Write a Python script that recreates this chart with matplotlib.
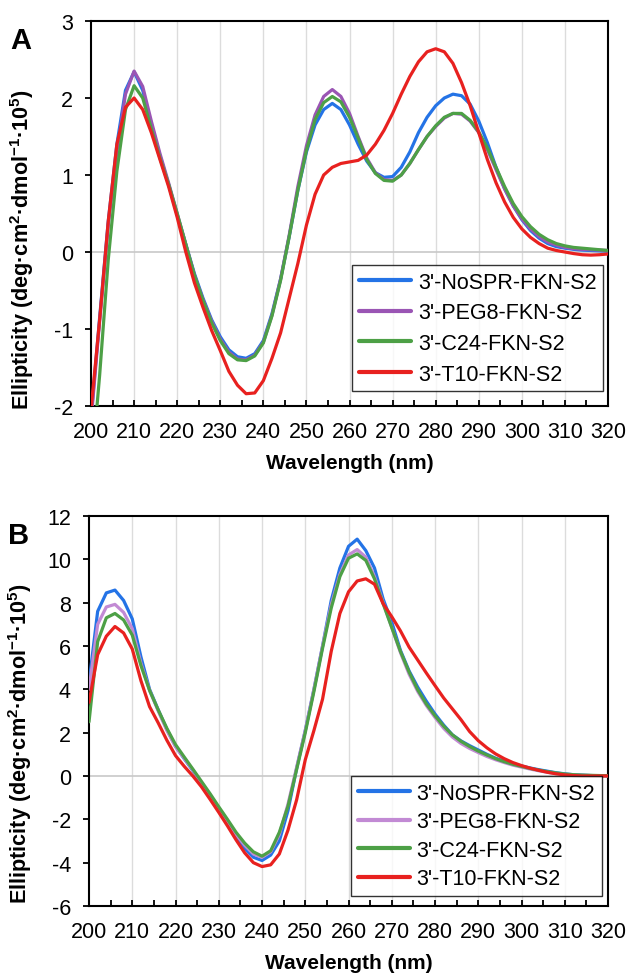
import numpy as np
import matplotlib
matplotlib.use('Agg')
import matplotlib.pyplot as plt
from matplotlib.ticker import MultipleLocator

plt.rcParams['font.family'] = ['Liberation Sans', 'DejaVu Sans']
plt.rcParams['mathtext.fontset'] = 'custom'
plt.rcParams['mathtext.bf'] = 'Liberation Sans:bold'
plt.rcParams['mathtext.rm'] = 'Liberation Sans'
plt.rcParams['mathtext.default'] = 'bf'
plt.rcParams['axes.unicode_minus'] = False

# wavelength grid (nm), 2 nm steps
wl = np.arange(200, 321, 2)

labels = ["3'-NoSPR-FKN-S2", "3'-PEG8-FKN-S2", "3'-C24-FKN-S2", "3'-T10-FKN-S2"]

# panel A
a_nospr = [-2.15, -0.85, 0.4, 1.4, 2.1, 2.34, 2.1, 1.66, 1.25, 0.88, 0.48, 0.1, -0.28, -0.6, -0.88,
           -1.1, -1.27, -1.36, -1.38, -1.32, -1.15, -0.8, -0.35, 0.2, 0.8, 1.3, 1.65, 1.85, 1.93, 1.85,
           1.65, 1.4, 1.18, 1.03, 0.97, 0.98, 1.1, 1.3, 1.55, 1.75, 1.9, 2.0, 2.05, 2.03, 1.92, 1.7,
           1.42, 1.1, 0.82, 0.6, 0.42, 0.28, 0.18, 0.11, 0.07, 0.05, 0.035, 0.025, 0.02, 0.015, 0.01]
a_peg8 = [-2.2, -0.9, 0.35, 1.3, 2.05, 2.35, 2.15, 1.7, 1.28, 0.9, 0.5, 0.1, -0.3, -0.62, -0.9,
          -1.13, -1.3, -1.39, -1.4, -1.34, -1.17, -0.82, -0.35, 0.22, 0.85, 1.38, 1.78, 2.02, 2.11, 2.02,
          1.8, 1.5, 1.22, 1.03, 0.94, 0.93, 1.0, 1.15, 1.33, 1.5, 1.63, 1.74, 1.8, 1.79, 1.7, 1.55,
          1.33, 1.07, 0.82, 0.6, 0.43, 0.3, 0.2, 0.13, 0.09, 0.06, 0.045, 0.035, 0.03, 0.025, 0.02]
a_c24 = [-2.9, -1.6, -0.1, 1.05, 1.85, 2.16, 2.0, 1.6, 1.22, 0.88, 0.5, 0.1, -0.3, -0.63, -0.92,
         -1.15, -1.32, -1.4, -1.41, -1.35, -1.18, -0.83, -0.37, 0.2, 0.8, 1.32, 1.72, 1.94, 2.02, 1.95,
         1.75, 1.48, 1.2, 1.02, 0.93, 0.92, 1.0, 1.15, 1.33, 1.5, 1.64, 1.75, 1.8, 1.8, 1.71, 1.56,
         1.35, 1.1, 0.85, 0.63, 0.46, 0.33, 0.23, 0.16, 0.11, 0.08, 0.06, 0.05, 0.04, 0.03, 0.02]
a_t10 = [-2.05, -0.88, 0.4, 1.4, 1.88, 2.0, 1.85, 1.55, 1.2, 0.85, 0.45, 0.0, -0.4, -0.72, -1.02,
         -1.28, -1.55, -1.73, -1.84, -1.83, -1.67, -1.38, -1.05, -0.6, -0.15, 0.35, 0.75, 1.0, 1.1, 1.15,
         1.17, 1.19, 1.26, 1.4, 1.58, 1.8, 2.05, 2.28, 2.47, 2.6, 2.64, 2.6, 2.45, 2.2, 1.9, 1.55,
         1.2, 0.9, 0.65, 0.45, 0.3, 0.19, 0.11, 0.05, 0.02, 0.0, -0.02, -0.035, -0.04, -0.035, -0.025]

# panel B
b_nospr = [4.3, 7.6, 8.45, 8.58, 8.1, 7.25, 5.5, 4.0, 3.05, 2.15, 1.37, 0.8, 0.25, -0.35, -0.92,
           -1.52, -2.15, -2.8, -3.35, -3.75, -3.9, -3.65, -3.0, -1.6, 0.35, 2.1, 4.0, 6.0, 8.1, 9.6,
           10.6, 10.93, 10.4, 9.6, 8.17, 7.1, 5.8, 4.85, 4.1, 3.45, 2.86, 2.35, 1.9, 1.62, 1.4, 1.2,
           1.0, 0.82, 0.68, 0.56, 0.46, 0.37, 0.29, 0.22, 0.15, 0.1, 0.06, 0.04, 0.02, 0.01, 0.01]
b_peg8 = [4.0, 7.0, 7.8, 7.92, 7.55, 6.8, 5.2, 3.95, 3.0, 2.1, 1.35, 0.82, 0.28, -0.3, -0.88,
          -1.48, -2.1, -2.7, -3.2, -3.6, -3.75, -3.5, -2.7, -1.3, 0.4, 2.1, 4.0, 6.0, 7.9, 9.3,
          10.2, 10.45, 10.1, 9.2, 8.0, 6.85, 5.7, 4.7, 3.9, 3.25, 2.7, 2.2, 1.8, 1.5, 1.27, 1.08,
          0.9, 0.75, 0.62, 0.5, 0.41, 0.32, 0.24, 0.17, 0.11, 0.07, 0.05, 0.03, 0.02, 0.01, 0.01]
b_c24 = [2.5, 6.2, 7.3, 7.5, 7.2, 6.5, 5.1, 3.95, 3.05, 2.2, 1.45, 0.88, 0.32, -0.25, -0.82,
         -1.42, -2.0, -2.6, -3.1, -3.5, -3.7, -3.45, -2.6, -1.4, 0.3, 2.0, 3.9, 5.9, 7.75, 9.2,
         10.05, 10.25, 9.95, 9.1, 7.95, 6.85, 5.75, 4.8, 3.98, 3.32, 2.78, 2.3, 1.9, 1.6, 1.36, 1.15,
         0.97, 0.8, 0.66, 0.54, 0.44, 0.35, 0.27, 0.2, 0.14, 0.09, 0.06, 0.04, 0.03, 0.02, 0.01]
b_t10 = [3.4, 5.6, 6.45, 6.9, 6.6, 5.86, 4.4, 3.2, 2.45, 1.65, 0.94, 0.45, 0.0, -0.5, -1.08,
         -1.68, -2.3, -2.95, -3.55, -4.0, -4.18, -4.1, -3.6, -2.5, -1.1, 0.75, 2.1, 3.55, 5.75, 7.5,
         8.5, 9.0, 9.1, 8.85, 7.95, 7.35, 6.7, 5.95, 5.35, 4.75, 4.17, 3.6, 3.1, 2.6, 2.05, 1.63,
         1.3, 1.02, 0.8, 0.62, 0.48, 0.36, 0.26, 0.17, 0.1, 0.05, 0.02, 0.0, 0.0, 0.0, 0.0]

colors_a = ['#2473E6', '#9A55B4', '#4DA046', '#E8211F']
colors_b = ['#2473E6', '#C28AD4', '#4DA046', '#E8211F']

fig = plt.figure(figsize=(6.26, 9.78), dpi=100)
ax_a = fig.add_axes([0.1454, 0.5838, 0.8259, 0.3937])
ax_b = fig.add_axes([0.1422, 0.0726, 0.8291, 0.3988])

panels = [
    (ax_a, [a_nospr, a_peg8, a_c24, a_t10], colors_a, (-2, 3), 1, 'A', 0.41, (0.99, 0.039), 0.45),
    (ax_b, [b_nospr, b_peg8, b_c24, b_t10], colors_b, (-6, 12), 2, 'B', 0.42, (0.988, 0.026), 0.35),
]

for ax, series, cols, ylim, ystep, letter, ylab_y, leg_pos, lspace in panels:
    ax.axhline(0, color='#c8c8c8', lw=1.2, zorder=1)
    for v in range(210, 320, 10):
        ax.axvline(v, color='#dcdcdc', lw=1.0, zorder=0)
    for vals, c, lab in zip(series, cols, labels):
        ax.plot(wl, vals, color=c, lw=2.3, label=lab, zorder=3,
                solid_joinstyle='round', solid_capstyle='round')
    ax.set_xlim(200, 320)
    ax.set_ylim(*ylim)
    ax.xaxis.set_major_locator(MultipleLocator(10))
    ax.xaxis.set_minor_locator(MultipleLocator(5))
    ax.yaxis.set_major_locator(MultipleLocator(ystep))
    ax.tick_params(axis='x', which='both', direction='in', length=4.5, width=1.3, labelsize=15.5, pad=11)
    ax.tick_params(axis='y', direction='out', length=4, width=1.3, labelsize=15.5, pad=9)
    for s in ax.spines.values():
        s.set_linewidth(1.5)
    ax.set_xlabel('Wavelength (nm)', fontsize=15, fontweight='bold', labelpad=8)
    ax.set_ylabel('Ellipticity (deg·cm$^{2}$·dmol$^{-1}$·10$^{5}$)', fontsize=15.6, fontweight='bold')
    ax.yaxis.set_label_coords(-0.106, ylab_y)
    ax.text(-0.135, 0.95, letter, transform=ax.transAxes, fontsize=21, fontweight='bold',
            ha='center', va='center')
    leg = ax.legend(loc='lower right', bbox_to_anchor=leg_pos, borderaxespad=0, fontsize=15.5,
                    frameon=True, fancybox=False, edgecolor='black', handlelength=2.45,
                    handletextpad=0.3, labelspacing=lspace, borderpad=0.3)
    leg.get_frame().set_linewidth(1.0)
    for h in leg.get_lines():
        h.set_linewidth(3)

plt.savefig('out.png', dpi=100)
